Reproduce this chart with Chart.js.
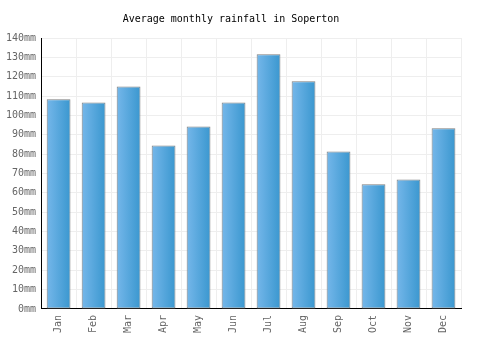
<!DOCTYPE html>
<html><head><meta charset="utf-8">
<script src="https://cdn.jsdelivr.net/npm/chart.js@4"></script>
<style>html,body{margin:0;padding:0;background:#fff}#wrap{width:500px;height:350px}</style>
</head><body><div id="wrap"><canvas id="c" width="500" height="350"></canvas></div>
<script>
const months = ["Jan","Feb","Mar","Apr","May","Jun","Jul","Aug","Sep","Oct","Nov","Dec"];
const rainfall = [108.4, 106.7, 115.0, 84.5, 94.3, 106.7, 131.6, 117.6, 81.4, 64.4, 66.9, 93.4];
const yTicks = [0,10,20,30,40,50,60,70,80,90,100,110,120,130,140];
const titleText = "Average monthly rainfall in Soperton";
const unit = "mm";

const FONT = "'DejaVu Sans Mono', monospace";
const BAR_PCT = 0.68;
function barGradient(ctx) {
  const chart = ctx.chart;
  const xs = chart.scales && chart.scales.x;
  if (!xs) return '#5aa8df';
  const x = xs.getPixelForValue(ctx.dataIndex);
  const w = xs.width / months.length * BAR_PCT;
  if (!isFinite(x) || !isFinite(w) || w <= 0) return '#5aa8df';
  const g = chart.ctx.createLinearGradient(x - w/2, 0, x + w/2, 0);
  g.addColorStop(0, '#75b7ea');
  g.addColorStop(1, '#3a97cf');
  return g;
}
new Chart(document.getElementById('c'), {
  type: 'bar',
  data: { labels: months, datasets: [{ data: rainfall, backgroundColor: barGradient, borderColor: '#7f7f7f', borderWidth: 1, borderSkipped: false, categoryPercentage: 1, barPercentage: BAR_PCT }] },
  options: {
    responsive: false, animation: false, devicePixelRatio: 1,
    layout: { padding: { left: 1, right: 39, top: 0, bottom: 11 } },
    plugins: {
      legend: { display: false }, tooltip: { enabled: false },
      title: { display: true, text: titleText, color: '#000', font: { family: FONT, size: 10, weight: 'normal' }, padding: { top: 13, bottom: 13 } }
    },
    scales: {
      x: {
        grid: { color: '#eeeeee', offset: true, drawTicks: false },
        border: { color: '#000', width: 1 },
        ticks: { color: '#666', font: { family: FONT, size: 10 }, maxRotation: 90, minRotation: 90, padding: 6 }
      },
      y: {
        min: 0, max: 140,
        afterBuildTicks: (axis) => { axis.ticks = yTicks.map(v => ({ value: v })); },
        grid: { color: '#eeeeee', drawTicks: false },
        border: { color: '#000', width: 1 },
        ticks: { color: '#666', font: { family: FONT, size: 10 }, padding: 5, callback: v => v + unit }
      }
    }
  }
});
</script></body></html>
